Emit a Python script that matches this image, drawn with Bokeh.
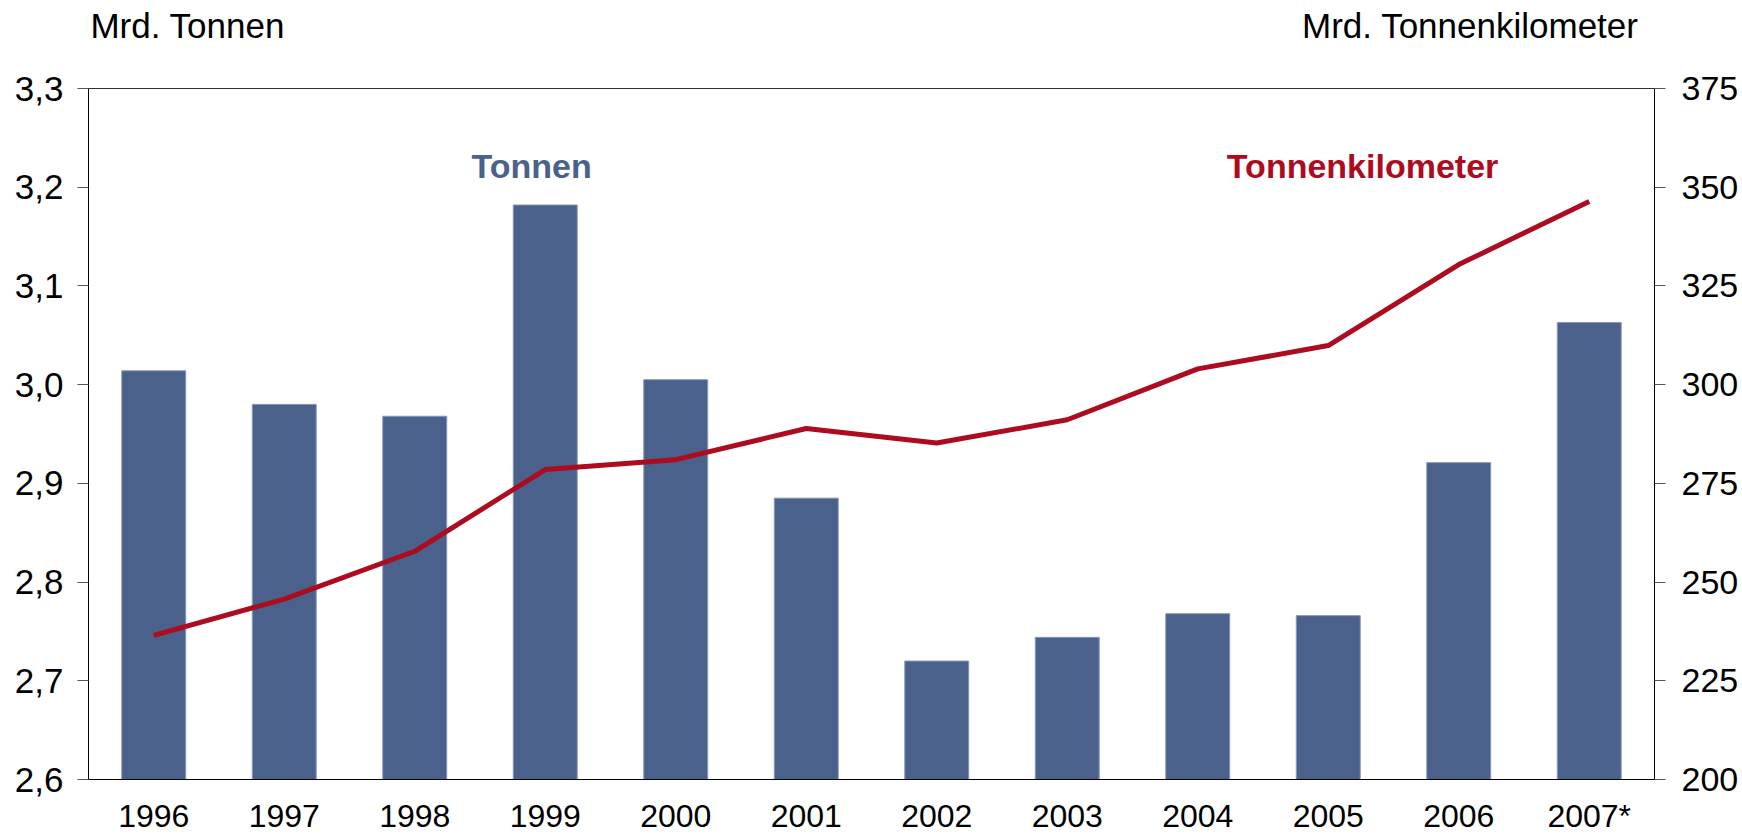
from bokeh.plotting import figure
from bokeh.layouts import column
from bokeh.models import Range1d, LinearAxis, FixedTicker, Label
from bokeh.embed import file_html
from bokeh.resources import INLINE

years = ["1996", "1997", "1998", "1999", "2000", "2001", "2002", "2003", "2004", "2005", "2006", "2007*"]
tonnen = [3.014, 2.980, 2.968, 3.182, 3.005, 2.885, 2.720, 2.744, 2.768, 2.766, 2.921, 3.063]
tkm = [236.5, 245.7, 257.8, 278.5, 281.0, 288.9, 285.2, 291.1, 304.0, 309.9, 330.4, 346.4]
left_ticks = [2.6, 2.7, 2.8, 2.9, 3.0, 3.1, 3.2, 3.3]
left_labels = ["2,6", "2,7", "2,8", "2,9", "3,0", "3,1", "3,2", "3,3"]
right_ticks = [200, 225, 250, 275, 300, 325, 350, 375]
left_title = "Mrd. Tonnen"
right_title = "Mrd. Tonnenkilometer"

BLUE = "#4A618C"
RED = "#AD0B1F"
FONT = "Liberation Sans"

xs = list(range(len(years)))

# header strip holding the two axis titles
h = figure(width=1742, height=66, output_backend="svg", toolbar_location=None,
           x_range=Range1d(-0.5, 11.5), y_range=Range1d(0, 66),
           min_border_left=88, min_border_right=88, min_border_top=0, min_border_bottom=0)
h.axis.visible = False
h.xgrid.visible = False
h.ygrid.visible = False
h.outline_line_color = None
h.background_fill_color = "white"
h.border_fill_color = "white"
h.add_layout(Label(x=-0.485, y=41, text=left_title, text_font=FONT, text_font_size="35px",
                   text_color="black", text_align="left", text_baseline="alphabetic"))
h.add_layout(Label(x=11.378, y=41, text=right_title, text_font=FONT, text_font_size="35px",
                   text_color="black", text_align="right", text_baseline="alphabetic"))

p = figure(width=1742, height=770, output_backend="svg", toolbar_location=None,
           x_range=Range1d(-0.5, 11.5), y_range=Range1d(2.6, 3.3),
           min_border_left=88, min_border_right=88, min_border_top=22, min_border_bottom=55)
p.extra_y_ranges = {"tkm": Range1d(200, 375)}
p.xgrid.visible = False
p.ygrid.visible = False
p.outline_line_color = "#333333"
p.outline_line_width = 1
p.background_fill_color = "white"
p.border_fill_color = "white"

p.vbar(x=xs, top=tonnen, bottom=2.6, width=0.49, fill_color=BLUE, line_color="#8797B8", line_width=1)
p.line(x=xs, y=tkm, y_range_name="tkm", line_color=RED, line_width=5, line_join="round")

# x axis
xa = p.xaxis[0]
xa.ticker = FixedTicker(ticks=xs)
xa.major_label_overrides = {i: y for i, y in enumerate(years)}
xa.major_tick_out = 0
xa.major_tick_in = 0
xa.minor_tick_out = 0
xa.minor_tick_in = 0
xa.major_label_standoff = 18
xa.major_label_text_font = FONT
xa.major_label_text_font_size = "32px"
xa.major_label_text_color = "black"
xa.axis_line_color = "black"

# left axis
ya = p.yaxis[0]
ya.ticker = FixedTicker(ticks=left_ticks)
ya.major_label_overrides = {t: l for t, l in zip(left_ticks, left_labels)}
ya.major_tick_out = 11
ya.major_tick_in = 0
ya.minor_tick_out = 0
ya.minor_tick_in = 0
ya.major_tick_line_color = "#555555"
ya.major_label_standoff = 14
ya.major_label_text_font = FONT
ya.major_label_text_font_size = "35px"
ya.major_label_text_color = "black"
ya.axis_line_color = "black"

# right axis
ra = LinearAxis(y_range_name="tkm", ticker=FixedTicker(ticks=right_ticks))
ra.major_tick_out = 11
ra.major_tick_in = 0
ra.minor_tick_out = 0
ra.minor_tick_in = 0
ra.major_tick_line_color = "#555555"
ra.major_label_standoff = 16
ra.major_label_text_font = FONT
ra.major_label_text_font_size = "34px"
ra.major_label_text_color = "black"
ra.axis_line_color = "black"
p.add_layout(ra, "right")

# series labels
p.add_layout(Label(x=2.895, y=3.221, text="Tonnen", text_font=FONT, text_font_size="34px",
                   text_font_style="bold", text_color=BLUE, text_align="center", text_baseline="alphabetic"))
p.add_layout(Label(x=9.263, y=3.221, text="Tonnenkilometer", text_font=FONT, text_font_size="34px",
                   text_font_style="bold", text_color=RED, text_align="center", text_baseline="alphabetic"))

open("out.html", "w").write(file_html(column(h, p, spacing=0), INLINE))
